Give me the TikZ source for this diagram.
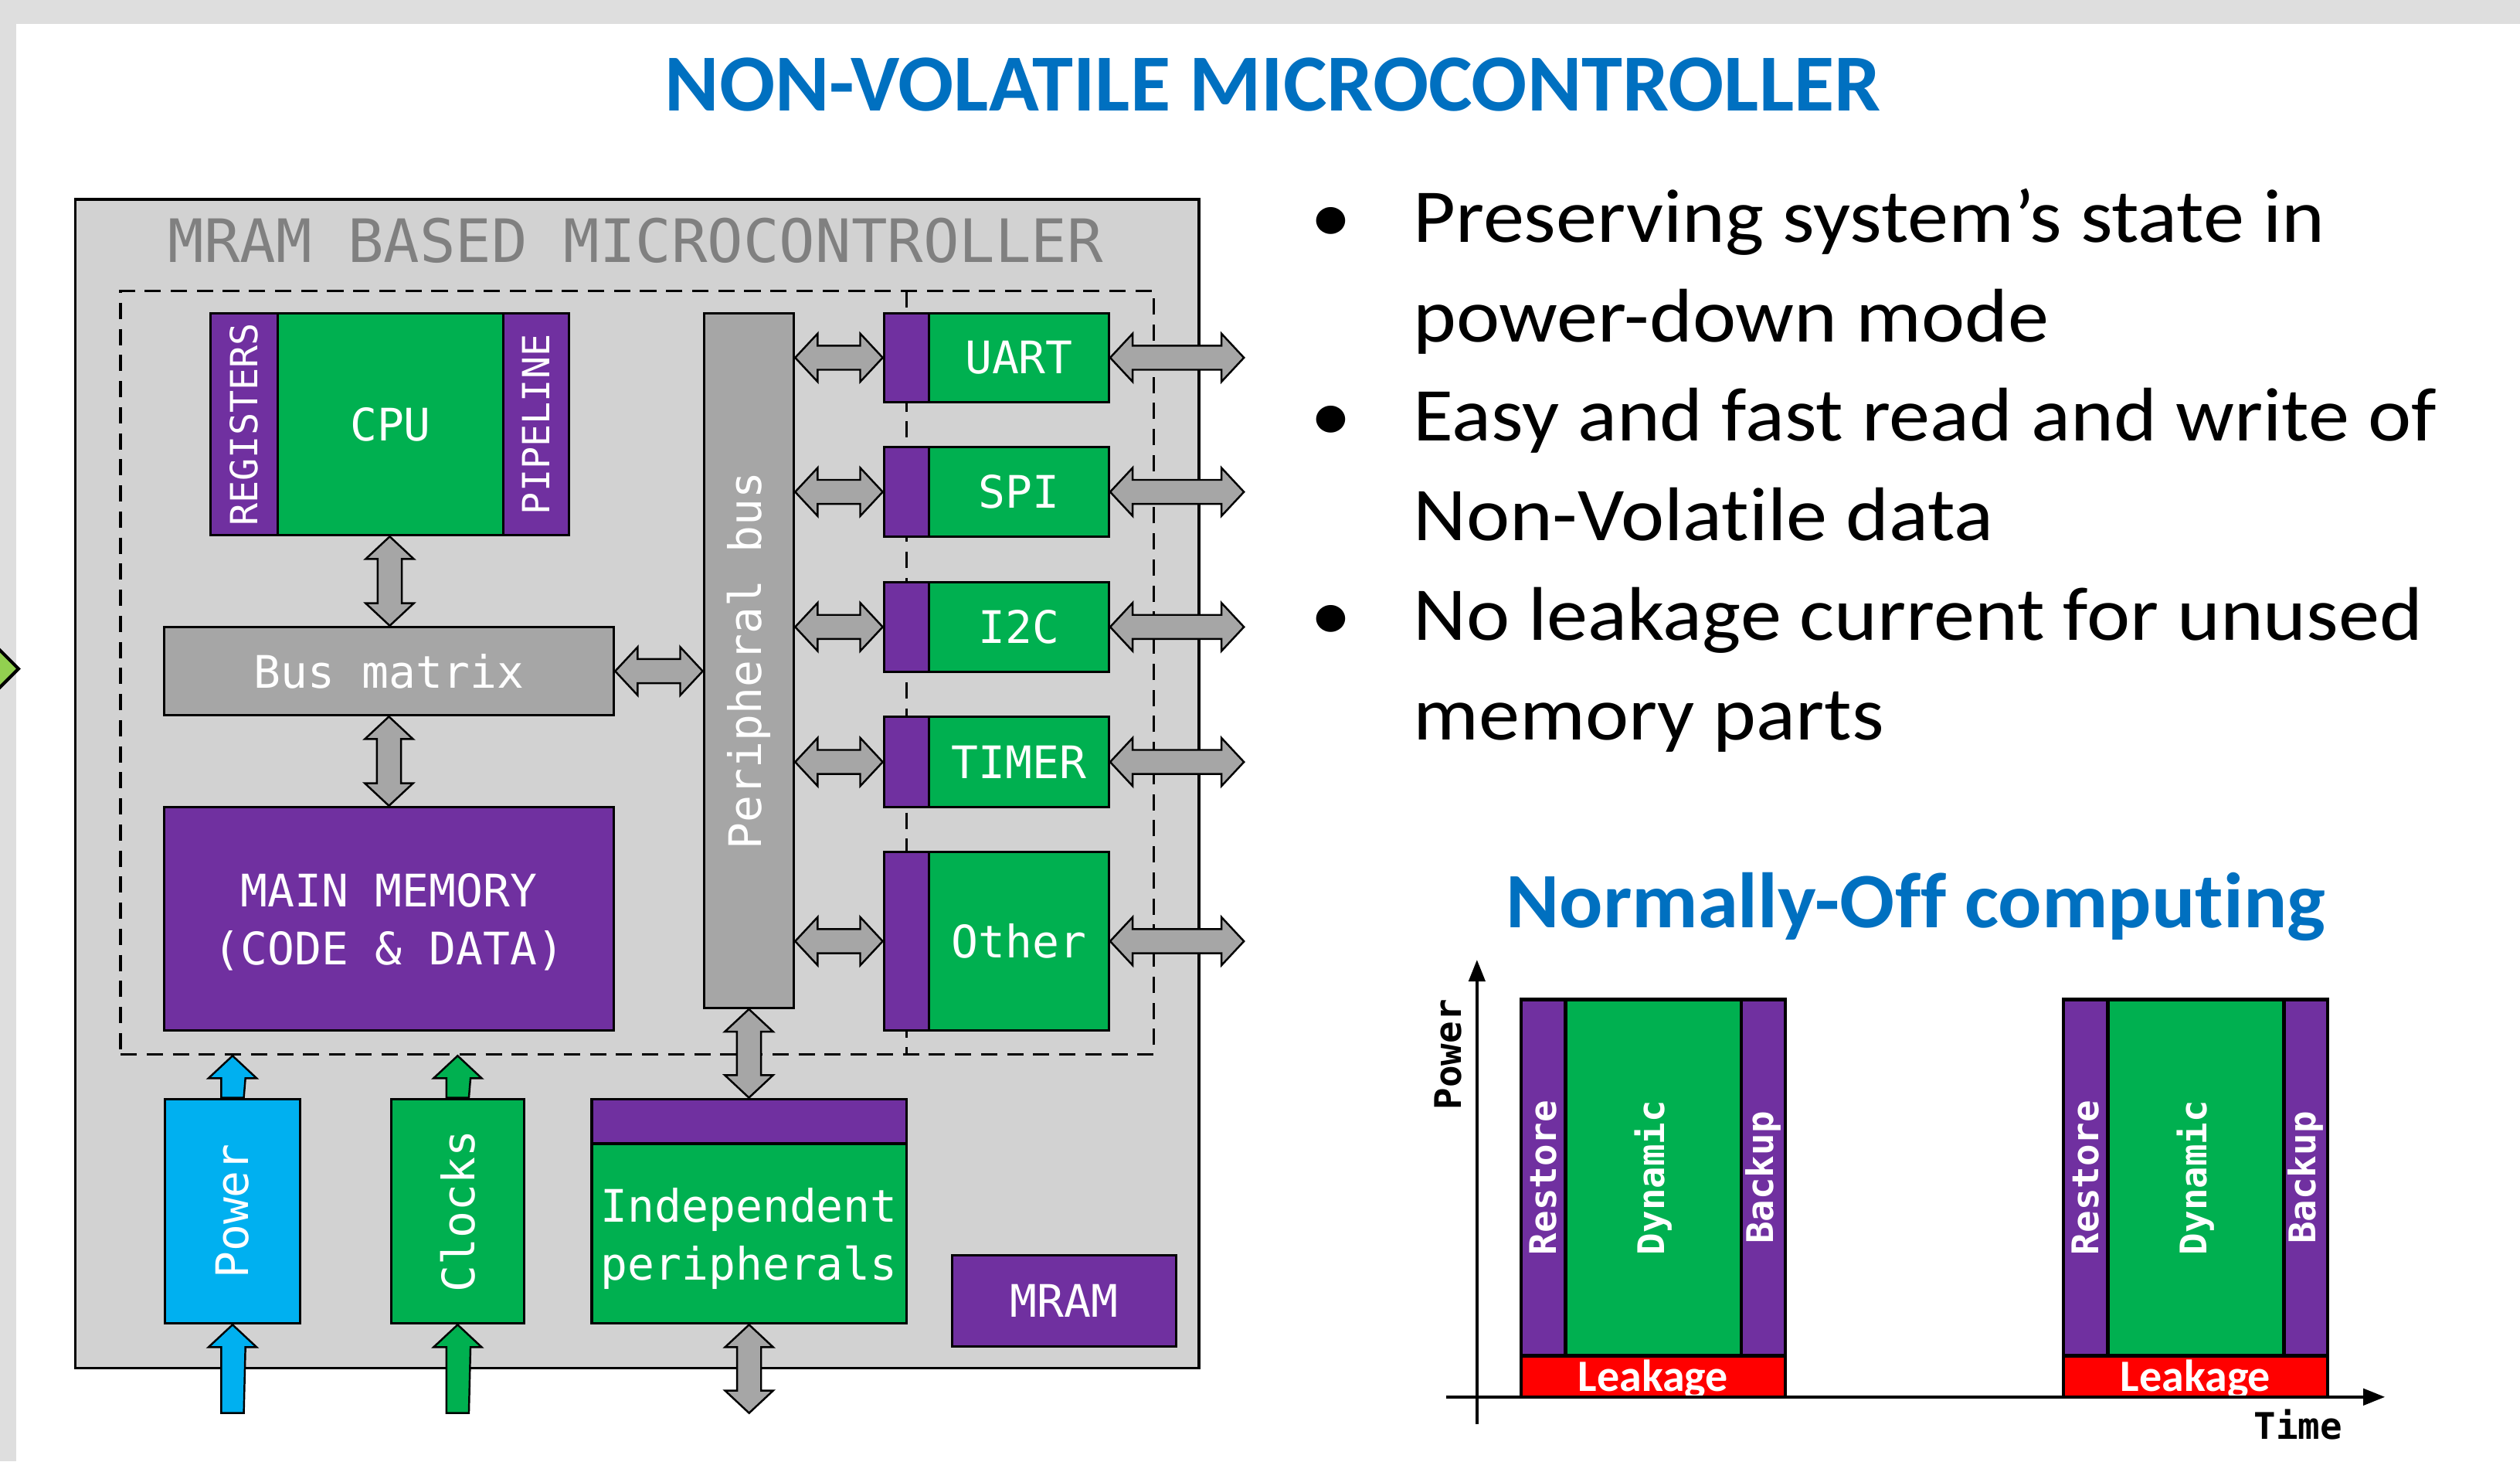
\documentclass[tikz,border=0pt]{standalone}
\usepackage{fontspec}
\setmainfont{Carlito}[Ligatures=NoCommon]
\newfontfamily\bulf{Carlito}[FakeStretch=1.08, Ligatures=NoCommon]
\newfontfamily\titf{Carlito}[FakeStretch=1.02, Ligatures=NoCommon]
\newfontfamily\titnf{Carlito}[FakeStretch=1.035, Ligatures=NoCommon]
\newfontfamily\monof{DejaVu Sans Mono}
\usetikzlibrary{fit,calc,arrows.meta}
\definecolor{cgreen}{HTML}{00B050}
\definecolor{cpurple}{HTML}{7030A0}
\definecolor{cblue}{HTML}{00B0F0}
\definecolor{cgray}{HTML}{A6A6A6}
\definecolor{cbg}{HTML}{D2D2D2}
\definecolor{ctitle}{HTML}{0070C0}
\definecolor{cband}{HTML}{DEDEDE}
\definecolor{clgreen}{HTML}{92D050}
\definecolor{cmgray}{HTML}{808080}
\tikzset{
  blk/.style={draw=black, line width=0.9pt, inner sep=0pt},
  gbox/.style={blk, fill=cgreen},
  pbox/.style={blk, fill=cpurple},
  bbox/.style={blk, fill=cblue},
  graybox/.style={blk, fill=cgray},
  tx/.style={text=white, font=\monof\fontsize{16.5}{21.3}\selectfont, align=center, inner sep=0pt},
  txs/.style={text=white, font=\monof\fontsize{13.8}{16}\selectfont, inner sep=0pt},
  ctx/.style={text=white, font=\monof\bfseries\fontsize{13.5}{16}\selectfont, inner sep=0pt},
  barr/.style={draw=black, line width=0.7pt, line join=miter},
  cbar/.style={draw=black, line width=1.3pt, inner sep=0pt},
  dashln/.style={draw=black, line width=0.9pt, dash pattern=on 6pt off 3.6pt},
  bul/.style={font=\bulf\fontsize{28}{34}\selectfont, inner sep=0pt, anchor=base west},
}
% vertical double block arrow: #2 top tip, #3 bottom tip
\newcommand\vdbl[3][cgray]{\draw[barr, fill=#1] (#2) -- ++(15,14) -- ++(-7.5,0) -- ($(#3)+(7.5,-14)$) -- ++(7.5,0) -- (#3) -- ++(-15,-14) -- ++(7.5,0) -- ($(#2)+(-7.5,14)$) -- ++(-7.5,0) -- cycle;}
% horizontal double block arrow: #2 left tip, #3 right tip
\newcommand\hdbl[3][cgray]{\draw[barr, fill=#1] (#2) -- ++(14,-15) -- ++(0,7.5) -- ($(#3)+(-14,-7.5)$) -- ++(0,-7.5) -- (#3) -- ++(-14,15) -- ++(0,-7.5) -- ($(#2)+(14,7.5)$) -- ++(0,7.5) -- cycle;}
% single up block arrow: #2 tail, #3 tip
\newcommand\vup[3][cblue]{\draw[barr, fill=#1] (#3) -- ++(15,14) -- ++(-7,0) -- ($(#2)+(7,0)$) -- ($(#2)+(-7,0)$) -- ($(#3)+(-7,14)$) -- ++(-8,0) -- cycle;}
\begin{document}
\begin{tikzpicture}[x=0.020804cm, y=-0.020804cm]
\useasboundingbox (0,0) rectangle (1568,909);
\fill[white] (0,0) rectangle (1568,909);
\fill[cband] (0,0) rectangle (1568,15);
\fill[cband] (0,0) rectangle (10,909);
\begin{scope}
  \clip (0,0) rectangle (1568,909);
  \draw[fill=clgreen, line width=1.2pt, line join=miter] (-10,394.5) -- (11.5,416) -- (-10,437.5) -- cycle;
\end{scope}

% titles
\node[font=\titf\bfseries\fontsize{29.8}{34}\selectfont, text=ctitle, anchor=base, inner sep=0pt] (title) at (792,69) {NON-VOLATILE MICROCONTROLLER};

% main box
\node[blk, fill=cbg, fit={(47,124) (746,851)}] (mcu) {};
\node[font=\monof\fontsize{22}{26}\selectfont, text=cmgray, anchor=base, inner sep=0pt] (mcutitle) at (395.5,163) {MRAM BASED MICROCONTROLLER};
\node[dashln, inner sep=0pt, fit={(75,181) (718,656)}] (dbox) {};
\coordinate (dsplit) at (564,181);
\draw[dashln] (dsplit) -- (dsplit |- dbox.south);

% CPU
\node[pbox, fit={(131,195) (173,333)}] (regs) {};
\node[gbox, fit={(173,195) (313,333)}] (cpu) {};
\node[pbox, fit={(313,195) (354,333)}] (pipe) {};
\node[blk, fit={(131,195) (354,333)}] (cpug) {};
\node[tx] at (cpu) {CPU};
\node[txs, rotate=90] at (regs) {REGISTERS};
\node[txs, rotate=90] at (pipe) {PIPELINE};

% bus matrix, memory
\node[graybox, fit={(102,390) (382,445)}] (bm) {};
\node[tx] at (bm) {Bus matrix};
\node[pbox, fit={(102,502) (382,641)}] (mem) {};
\node[tx] at ($(mem)+(0,2)$) {MAIN MEMORY\\(CODE \& DATA)};

% peripheral bus
\node[graybox, fit={(438,195) (494,627)}] (pbus) {};
\node[tx, rotate=90] at (pbus) {Peripheral bus};

\coordinate (outR) at (774,0);
\foreach \n/\t/\ya/\yb in {uart/UART/195/250, spi/SPI/278/334, i2c/I2C/362/418, timer/TIMER/446/502, other/Other/530/641}{
  \node[pbox, fit={(550,\ya) (578,\yb)}] (p-\n) {};
  \node[gbox, fit={(578,\ya) (690,\yb)}] (g-\n) {};
  \node[tx] at (g-\n) {\t};
  \hdbl{pbus.east |- p-\n.west}{p-\n.west}
  \hdbl{g-\n.east}{g-\n.east -| outR}
}

% arrows core
\vdbl{cpug.south}{cpug.south |- bm.north}
\vdbl{bm.south}{bm.south |- mem.north}
\hdbl{bm.east}{bm.east -| pbus.west}

% bottom blocks
\node[bbox, fit={(102.7,683.6) (186.7,823.3)}] (pwr) {};
\node[tx, rotate=90] at (pwr) {Power};
\node[gbox, fit={(243.3,683.6) (326.2,823.3)}] (clk) {};
\node[tx, rotate=90] at (clk) {Clocks};
\node[pbox, fit={(368.2,683.6) (564,711.4)}] (indp) {};
\node[gbox, fit={(368.2,711.4) (564,823.3)}] (indg) {};
\node[blk, fit={(368.2,683.6) (564,823.3)}] (ind) {};
\node[tx] at ($(indg)+(0,3)$) {Independent\\peripherals};
\node[pbox, fit={(592.3,781) (732,837.4)}] (mram) {};
\node[tx] at (mram) {MRAM};

\coordinate (pwrin) at (144.7,879);
\coordinate (clkin) at (284.75,879);
\coordinate (ioin) at (466.1,879);
\vup[cblue]{pwrin}{pwr.south}
\vup[cblue]{pwr.north}{pwr.north |- dbox.south}
\vup[cgreen]{clkin}{clk.south}
\vup[cgreen]{clk.north}{clk.north |- dbox.south}
\vdbl{pbus.south}{pbus.south |- ind.north}
\vdbl{ind.south}{ioin}

% bullets
\foreach \yy/\tt in {150.6/{Preserving system’s state in}, 212.5/{power-down mode}, 274.4/{Easy and fast read and write of}, 336.3/{Non-Volatile data}, 398.2/{No leakage current for unused}, 460.1/{memory parts}}{
  \node[bul] at (879,\yy) {\tt};
}
\foreach \yy in {150.6, 274.4, 398.2}{
  \node[bul, anchor=base] at (828,\yy) {•};
}

% normally-off chart
\node[font=\titnf\bfseries\fontsize{28.9}{34}\selectfont, text=ctitle, anchor=base, inner sep=0pt] (nofft) at (1192,577.2) {Normally-Off computing};
\coordinate (yb) at (919,886);
\coordinate (yt) at (919,597);
\coordinate (xl) at (900,869);
\coordinate (xr) at (1484,869);

\foreach \k/\dx in {1/0, 2/337.5}{
  \node[cbar, fill=cpurple, fit={(946.4+\dx,621.9) (974.1+\dx,843.3)}] (r\k) {};
  \node[cbar, fill=cgreen, fit={(974.1+\dx,621.9) (1083.5+\dx,843.3)}] (d\k) {};
  \node[cbar, fill=cpurple, fit={(1083.5+\dx,621.9) (1110.8+\dx,843.3)}] (b\k) {};
  \node[cbar, fill=red, fit={(946.4+\dx,843.3) (1110.8+\dx,869)}] (l\k) {};
  \node[ctx, rotate=90] at (r\k) {Restore};
  \node[ctx, rotate=90] at (d\k) {Dynamic};
  \node[ctx, rotate=90] at (b\k) {Backup};
  \node[text=white, font=\bfseries\fontsize{16.5}{18}\selectfont, inner sep=0pt, anchor=base] at (l\k.center |- 0,865.7) {Leakage};
}
\draw[line width=1.2pt, -{Triangle[length=8pt,width=6pt]}] (yb) -- (yt);
\draw[line width=1.2pt, -{Triangle[length=8pt,width=6pt]}] (xl) -- (xr);
\node[ctx, text=black, rotate=90] (plabel) at (901,656) {Power};
\node[ctx, text=black] (tlabel) at (1430,886) {Time};
\end{tikzpicture}
\end{document}
